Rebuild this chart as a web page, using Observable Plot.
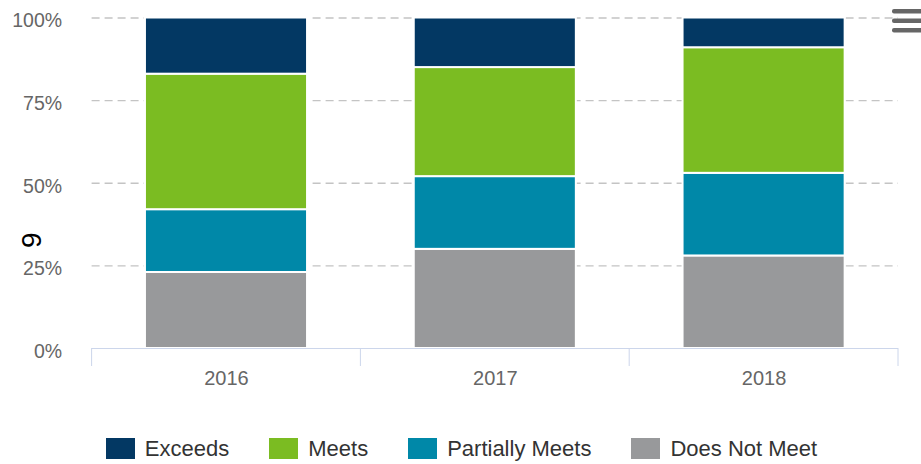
<!DOCTYPE html>
<html>
<head>
<meta charset="utf-8">
<script src="https://cdn.jsdelivr.net/npm/d3@7"></script>
<script src="https://cdn.jsdelivr.net/npm/@observablehq/plot@0.6"></script>
<style>
  html, body { margin: 0; padding: 0; background: #fff; }
  #wrap { position: relative; width: 921px; height: 464px; overflow: hidden; font-family: "Liberation Sans", Arial, sans-serif; }
  #chart svg { display: block; }
  #legend { display: flex; justify-content: center; align-items: flex-start; height: 44px; gap: 40px; padding-left: 2px; }
  .item { display: flex; align-items: flex-start; color: #333; font-size: 22px; line-height: 1; }
  .sw { width: 29px; height: 21px; margin-top: 18px; margin-right: 10px; }
  .lbl { margin-top: 18px; }
  #menu { position: absolute; left: 892px; top: 0; }
</style>
</head>
<body>
<div id="wrap">
  <div id="chart"></div>
  <div id="legend"></div>
  <svg id="menu" width="29" height="40"><rect x="0" y="9" width="40" height="4.5" rx="2" fill="#666"/><rect x="0" y="18.5" width="40" height="4.5" rx="2" fill="#666"/><rect x="0" y="28" width="40" height="4.5" rx="2" fill="#666"/></svg>
</div>
<script>
// ---- data ----
const years = ["2016", "2017", "2018"];
const seriesNames = ["Does Not Meet", "Partially Meets", "Meets", "Exceeds"]; // stacking order, bottom to top
const doesNotMeet = [23, 30, 28];
const partiallyMeets = [19, 22, 25];
const meets = [41, 33, 38];
const exceeds = [17, 15, 9];
const yTicks = [0, 25, 50, 75, 100];
const yTitle = "9";
const legendOrder = ["Exceeds", "Meets", "Partially Meets", "Does Not Meet"];

// ---- style ----
const colorRange = ["#033863", "#7bbc22", "#0088a8", "#98999b"];

const seriesValues = [doesNotMeet, partiallyMeets, meets, exceeds];
const table = [];
seriesNames.forEach((s, si) => years.forEach((y, yi) => table.push({year: y, series: s, value: seriesValues[si][yi]})));

function xTickMarks(index, scales) {
  const x = scales.x, y = scales.y;
  const bw = typeof x.bandwidth === "function" ? x.bandwidth() : x.bandwidth;
  const step = years.length > 1 ? x(years[1]) - x(years[0]) : bw;
  const off = (step - bw) / 2;
  const edges = years.map(v => x(v) - off).concat([x(years[years.length - 1]) + bw + off]);
  const y0 = y(0);
  const g = d3.create("svg:g");
  g.selectAll("line").data(edges).join("line")
    .attr("x1", d => d).attr("x2", d => d)
    .attr("y1", y0).attr("y2", y0 + 18)
    .attr("stroke", "#ccd6eb").attr("stroke-width", 1);
  return g.node();
}

const plot = Plot.plot({
  width: 921,
  height: 420,
  marginLeft: 91.6,
  marginRight: 23,
  marginTop: 17.5,
  marginBottom: 72,
  style: {fontFamily: "'Liberation Sans', Arial, sans-serif", color: "#666", background: "#fff"},
  x: {domain: years, paddingInner: 0.397, paddingOuter: 0.1985, round: false, label: null},
  y: {domain: [0, 100], label: null},
  color: {domain: legendOrder, range: colorRange},
  marks: [
    Plot.gridY(yTicks.filter(d => d > 0), {stroke: "#c4c4c4", strokeOpacity: 1, strokeWidth: 1.3, strokeDasharray: "8,5"}),
    Plot.barY(table, Plot.stackY({x: "year", y: "value", fill: "series", stroke: "#fff", strokeWidth: 2, order: seriesNames})),
    Plot.ruleY([0], {stroke: "#ccd6eb", strokeWidth: 1}),
    xTickMarks,
    Plot.axisY(yTicks, {tickSize: 0, tickPadding: 30, tickFormat: d => d + "%", fontSize: 19.5, fill: "#666", dy: 3, label: null}),
    Plot.axisX(years, {tickSize: 0, tickPadding: 22, fontSize: 20, fill: "#666", label: null}),
    Plot.text([yTitle], {frameAnchor: "left", rotate: -90, dx: -59.6, dy: 57, fontSize: 28, fill: "#000", textAnchor: "middle", lineAnchor: "middle"})
  ]
});
document.getElementById("chart").appendChild(plot);

const legend = d3.select("#legend");
legendOrder.forEach((name, i) => {
  const it = legend.append("div").attr("class", "item");
  it.append("div").attr("class", "sw").style("background", colorRange[i]);
  it.append("div").attr("class", "lbl").text(name);
});
</script>
</body>
</html>
